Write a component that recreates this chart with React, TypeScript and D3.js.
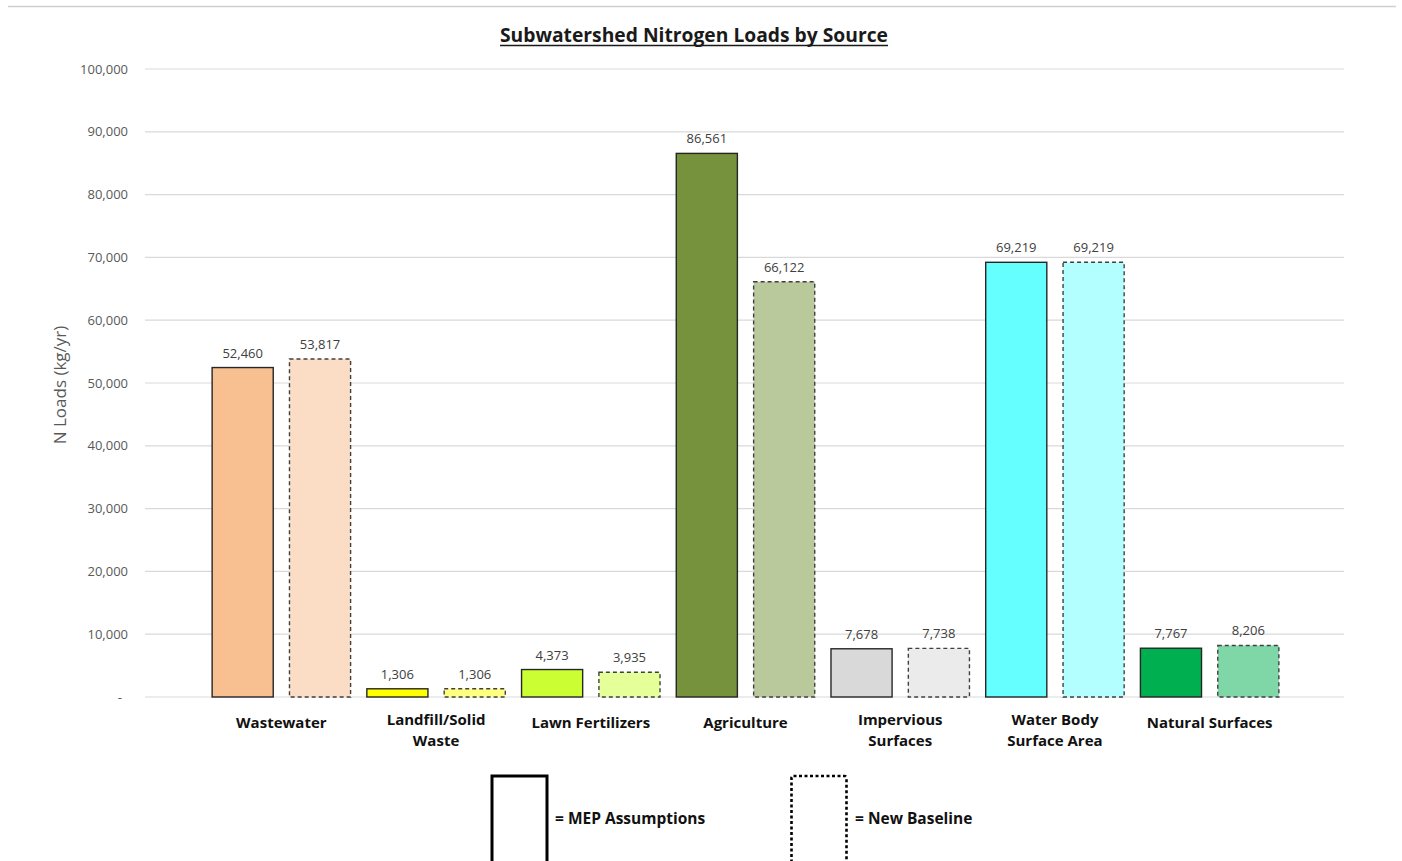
import React, { useEffect, useRef } from "react";
import * as d3 from "d3";

const categories = [
  ["Wastewater"],
  ["Landfill/Solid", "Waste"],
  ["Lawn Fertilizers"],
  ["Agriculture"],
  ["Impervious", "Surfaces"],
  ["Water Body", "Surface Area"],
  ["Natural Surfaces"],
];
const mepValues = [52460, 1306, 4373, 86561, 7678, 69219, 7767];
const baselineValues = [53817, 1306, 3935, 66122, 7738, 69219, 8206];
const mepColors = ["#F8C090", "#FFFF00", "#CCFF33", "#76923C", "#D9D9D9", "#66FFFF", "#00B050"];
const baselineColors = ["#FADDC4", "#FFFF80", "#E5FF99", "#BAC99C", "#EBEBEB", "#B3FFFF", "#7FD7A7"];
const yTicks = [0, 10000, 20000, 30000, 40000, 50000, 60000, 70000, 80000, 90000, 100000];
const seriesKeys = ["mep", "baseline"];

const W = 1402;
const H = 861;
const FONT = "'Open Sans', 'DejaVu Sans', sans-serif";

export default function App() {
  const ref = useRef<SVGSVGElement | null>(null);

  useEffect(() => {
    const svg = d3.select(ref.current);
    svg.selectAll("*").remove();

    const gridLeft = 145;
    const gridRight = 1344;
    const y = d3.scaleLinear().domain([0, 100000]).range([697, 69]);
    const x0 = d3
      .scaleBand<number>()
      .domain(d3.range(categories.length))
      .range([204, 1287])
      .padding(0);
    const x1 = d3
      .scaleBand<string>()
      .domain(seriesKeys)
      .range([0, x0.bandwidth()])
      .paddingInner(0.21)
      .paddingOuter(0.105);

    // page rule at the top
    svg
      .append("line")
      .attr("x1", 8)
      .attr("x2", 1396)
      .attr("y1", 6.5)
      .attr("y2", 6.5)
      .attr("stroke", "#cfcfcf")
      .attr("stroke-width", 1.5);

    // title
    svg
      .append("text")
      .attr("x", 694)
      .attr("y", 42)
      .attr("text-anchor", "middle")
      .attr("font-family", FONT)
      .attr("font-weight", "bold")
      .attr("font-size", 19)
      .attr("fill", "#1a1a1a")
      .attr("textLength", 388)
      .attr("lengthAdjust", "spacingAndGlyphs")
      .text("Subwatershed Nitrogen Loads by Source");
    svg
      .append("line")
      .attr("x1", 500)
      .attr("x2", 888)
      .attr("y1", 45.5)
      .attr("y2", 45.5)
      .attr("stroke", "#1a1a1a")
      .attr("stroke-width", 1.6);

    // gridlines + y ticks
    const grid = svg.append("g");
    grid
      .selectAll("line")
      .data(yTicks)
      .join("line")
      .attr("x1", gridLeft)
      .attr("x2", gridRight)
      .attr("y1", (d) => y(d))
      .attr("y2", (d) => y(d))
      .attr("stroke", "#d9d9d9")
      .attr("stroke-width", 1.2);
    const fmt = d3.format(",");
    grid
      .selectAll("text")
      .data(yTicks)
      .join("text")
      .attr("x", (d) => (d === 0 ? 122 : 128))
      .attr("y", (d) => y(d) + 4.5)
      .attr("text-anchor", "end")
      .attr("font-family", FONT)
      .attr("font-size", 13)
      .attr("fill", "#595959")
      .text((d) => (d === 0 ? "-" : fmt(d)));

    // y axis title
    svg
      .append("text")
      .attr("transform", `translate(66,385) rotate(-90)`)
      .attr("text-anchor", "middle")
      .attr("font-family", FONT)
      .attr("font-size", 17)
      .attr("fill", "#595959")
      .text("N Loads (kg/yr)");

    const rows = categories.map((c, i) => ({
      i,
      bars: [
        { key: "mep", value: mepValues[i], color: mepColors[i] },
        { key: "baseline", value: baselineValues[i], color: baselineColors[i] },
      ],
    }));

    const groups = svg
      .append("g")
      .selectAll("g")
      .data(rows)
      .join("g")
      .attr("transform", (d) => `translate(${x0(d.i)},0)`);

    groups
      .selectAll("rect")
      .data((d) => d.bars)
      .join("rect")
      .attr("x", (d) => x1(d.key)!)
      .attr("width", x1.bandwidth())
      .attr("y", (d) => y(d.value))
      .attr("height", (d) => y(0) - y(d.value))
      .attr("fill", (d) => d.color)
      .attr("stroke", (d) => (d.key === "mep" ? "#262626" : "#404040"))
      .attr("stroke-width", 1.4)
      .attr("stroke-dasharray", (d) => (d.key === "mep" ? null : "4,3"));

    groups
      .selectAll("text.val")
      .data((d) => d.bars)
      .join("text")
      .attr("class", "val")
      .attr("x", (d) => x1(d.key)! + x1.bandwidth() / 2)
      .attr("y", (d) => y(d.value) - 10)
      .attr("text-anchor", "middle")
      .attr("font-family", FONT)
      .attr("font-size", 13)
      .attr("fill", "#404040")
      .text((d) => fmt(d.value));

    // category labels
    const labels = svg
      .append("g")
      .selectAll("text")
      .data(categories.map((lines, i) => ({ lines, i })))
      .join("text")
      .attr("text-anchor", "middle")
      .attr("font-family", FONT)
      .attr("font-weight", "bold")
      .attr("font-size", 15)
      .attr("fill", "#111")
      .attr("x", (d) => x0(d.i)! + x0.bandwidth() / 2)
      .attr("y", (d) => (d.lines.length === 1 ? 728 : 725));
    labels
      .selectAll("tspan")
      .data((d) => d.lines.map((t, k) => ({ t, k, x: x0(d.i)! + x0.bandwidth() / 2 })))
      .join("tspan")
      .attr("x", (d) => d.x)
      .attr("dy", (d) => (d.k === 0 ? 0 : 21))
      .text((d) => d.t);

    // legend
    const legend = svg.append("g");
    legend
      .append("rect")
      .attr("x", 492)
      .attr("y", 776)
      .attr("width", 55)
      .attr("height", 90)
      .attr("fill", "#fff")
      .attr("stroke", "#000")
      .attr("stroke-width", 3);
    legend
      .append("rect")
      .attr("x", 791.5)
      .attr("y", 776)
      .attr("width", 55)
      .attr("height", 90)
      .attr("rx", 2)
      .attr("fill", "#fff")
      .attr("stroke", "#000")
      .attr("stroke-width", 2.6)
      .attr("stroke-dasharray", "3,2.5");
    legend
      .append("text")
      .attr("x", 555)
      .attr("y", 824)
      .attr("font-family", FONT)
      .attr("font-weight", "bold")
      .attr("font-size", 15.5)
      .attr("fill", "#111")
      .text("= MEP Assumptions");
    legend
      .append("text")
      .attr("x", 855)
      .attr("y", 824)
      .attr("font-family", FONT)
      .attr("font-weight", "bold")
      .attr("font-size", 15.5)
      .attr("fill", "#111")
      .text("= New Baseline");
  }, []);

  return (
    <svg
      ref={ref}
      width={W}
      height={H}
      style={{ position: "absolute", left: 0, top: 0, display: "block", background: "#fff" }}
    />
  );
}
